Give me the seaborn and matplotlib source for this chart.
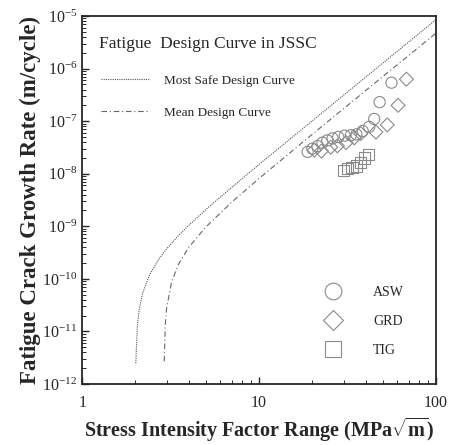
import numpy as np
import pandas as pd
import seaborn as sns
import matplotlib.pyplot as plt
from matplotlib.lines import Line2D

# design curves (JSSC)
safe_dk = [2.01, 2.05, 2.1, 2.2, 2.4, 2.7, 3.0, 3.5, 4.0, 5.0, 7.0, 10.0, 20.0, 40.0, 100.0]
safe_rate = [2.5e-12, 1.27e-11, 2.61e-11, 5.45e-11, 1.18e-10, 2.33e-10, 3.72e-10, 6.65e-10,
             1.04e-9, 2.08e-9, 5.51e-9, 1.50e-8, 1.02e-7, 6.87e-7, 8.54e-6]
mean_dk = [2.91, 2.95, 3.0, 3.2, 3.5, 4.0, 5.0, 7.0, 10.0, 20.0, 40.0, 100.0]
mean_rate = [2.7e-12, 1.35e-11, 2.75e-11, 8.7e-11, 1.90e-10, 3.98e-10, 9.7e-10, 2.88e-9,
             8.15e-9, 5.65e-8, 3.81e-7, 4.74e-6]

# test data
asw_dk = [18.8, 20.0, 21.4, 22.8, 24.3, 26.0, 28.0, 30.5, 33.0, 35.5, 38.5, 41.9, 44.7, 48.0, 56.0]
asw_rate = [2.6e-8, 3.0e-8, 3.35e-8, 3.9e-8, 4.3e-8, 4.7e-8, 5.0e-8, 5.3e-8, 5.4e-8, 5.6e-8,
            6.5e-8, 7.8e-8, 1.1e-7, 2.3e-7, 5.4e-7]
grd_dk = [20.5, 22.5, 25.4, 27.7, 31.0, 34.5, 37.5, 45.7, 53.0, 61.0, 68.0]
grd_rate = [2.8e-8, 2.7e-8, 3.2e-8, 3.4e-8, 3.9e-8, 4.8e-8, 5.8e-8, 6.2e-8, 8.5e-8, 2.0e-7, 6.3e-7]
tig_dk = [30.0, 31.5, 33.5, 35.5, 37.5, 39.5, 41.5]
tig_rate = [1.15e-8, 1.25e-8, 1.3e-8, 1.4e-8, 1.65e-8, 2.0e-8, 2.35e-8]

sns.set_style("ticks")
plt.rcParams['font.family'] = ['Liberation Serif', 'DejaVu Serif']
plt.rcParams['mathtext.fontset'] = 'custom'
plt.rcParams['mathtext.rm'] = 'Liberation Serif'
plt.rcParams['mathtext.bf'] = 'Liberation Serif:bold'

fig = plt.figure(figsize=(4.59, 4.45), dpi=100)
ax = fig.add_axes([0.179, 0.137, 0.771, 0.827])

sns.lineplot(x=safe_dk, y=safe_rate, ax=ax, color='#555555', lw=0.8,
             linestyle=(0, (1, 1)), estimator=None, sort=False)
sns.lineplot(x=mean_dk, y=mean_rate, ax=ax, color='#666666', lw=0.8,
             linestyle=(0, (5, 2.5, 1, 2.5)), estimator=None, sort=False)

mk_color = '#8a8a8a'
groups = [(asw_dk, asw_rate, 'o'), (grd_dk, grd_rate, 'D'), (tig_dk, tig_rate, 's')]
for dk, rate, mk in groups:
    size = 50 if mk == 'D' else 65
    sns.scatterplot(x=dk, y=rate, ax=ax, marker=mk, s=size, facecolors='none',
                    edgecolors=mk_color, linewidth=0.8, legend=False)

ax.set_xscale('log')
ax.set_yscale('log')
ax.set_xlim(1, 100)
ax.set_ylim(1e-12, 1e-5)
ax.set_xticks([1, 10, 100])
ax.set_xticklabels(['1', '10', '100'])
ax.set_yticks([10.0 ** k for k in range(-12, -4)])
ax.tick_params(which='both', direction='in', labelsize=11.5, top=False, right=False)
ax.tick_params(which='major', length=5, width=1)
ax.tick_params(which='minor', length=3, width=0.7)
for sp in ax.spines.values():
    sp.set_linewidth(1.3)
ax.tick_params(axis='x', pad=8)

ax.set_xlabel(r'Stress Intensity Factor Range (MPa$\sqrt{\mathbf{m}}$)',
              fontsize=14.5, fontweight='bold', labelpad=3)
ax.set_ylabel('Fatigue Crack Growth Rate (m/cycle)', fontsize=16.5,
              fontweight='bold', labelpad=1)

ax.text(0.048, 0.925, 'Fatigue  Design Curve in JSSC', transform=ax.transAxes,
        fontsize=12.5, va='center', ha='left')

line_handles = [Line2D([], [], color='#555555', lw=0.8, linestyle=(0, (1, 1))),
                Line2D([], [], color='#666666', lw=0.8, linestyle=(0, (5, 2.5, 1, 2.5)))]
leg1 = ax.legend(line_handles, ['Most Safe Design Curve', 'Mean Design Curve'],
                 loc='upper left', bbox_to_anchor=(0.02, 0.874), frameon=False,
                 fontsize=9.5, handlelength=3.7, handletextpad=1.1, labelspacing=1.5)
ax.add_artist(leg1)

mk_handles = [Line2D([], [], marker=m, ls='none', markersize=ms, markerfacecolor='none',
                     markeredgecolor=mk_color, markeredgewidth=0.8)
              for m, ms in [('o', 12), ('D', 10), ('s', 12)]]
ax.legend(mk_handles, ['ASW', 'GRD', 'TIG'], loc='lower right',
          bbox_to_anchor=(0.945, 0.04), frameon=False, fontsize=10,
          handletextpad=1.9, labelspacing=1.15)

fig.savefig('out.png', dpi=100)
